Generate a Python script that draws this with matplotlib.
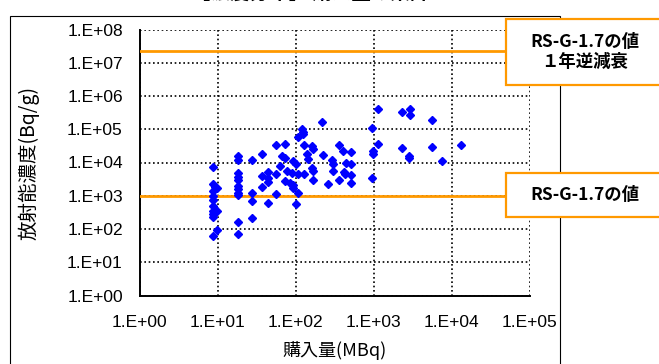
import numpy as np
import matplotlib.pyplot as plt
from matplotlib.patches import Rectangle

plt.rcParams['font.family'] = ['Liberation Sans Narrow', 'Liberation Sans', 'Noto Sans CJK JP']

# 購入量(MBq)
purchase = [8.8, 8.8, 9.2, 9.9, 8.8, 8.8, 8.8, 8.8, 8.8, 9.9, 8.8, 8.8, 9.9, 8.8,
            18.5, 18.5, 18.5, 18.5, 18.5, 18.5, 18.5, 18.5, 18.5, 18.5, 18.5,
            27.9, 27.9, 27.9, 27.9,
            37, 37, 37,
            44.8, 44.8, 44.8, 44.8,
            56.2, 56.2, 56.2,
            217, 120, 126, 124, 108.6, 73.3, 128.5, 161, 169, 139, 146, 227, 365, 410, 510,
            66.5, 73.3, 93.7, 101, 291, 300, 300, 444, 510, 161, 169, 419, 431, 510,
            63.4, 77.1, 89.4, 108.6, 128.5, 73.3, 85, 93.7, 92, 169, 263, 365, 510, 108.6, 101,
            1150, 2300, 2940, 2940, 5570, 948, 1150, 994, 977, 2340, 2880, 2880, 5570,
            13200, 7490, 948]
# 放射能濃度(Bq/g)
conc = [7200, 2300, 1800, 1660, 1380, 980, 720, 490, 360, 350, 275, 230, 93, 62,
        16000, 11700, 4900, 3600, 2900, 1950, 1550, 1230, 1050, 166, 72,
        12000, 1230, 690, 220,
        18600, 3800, 1820,
        5200, 3470, 2630, 620,
        33000, 4600, 1150,
        166000, 100000, 85000, 71000, 59000, 35500, 33000, 31600, 25000, 18600, 12900, 17000, 33000, 22400, 21400,
        15800, 13500, 11200, 8900, 11700, 9100, 5500, 9800, 9100, 6800, 5500, 5200, 4400, 4200,
        7800, 5500, 4900, 4600, 4600, 2750, 2450, 2100, 1660, 2900, 2300, 2900, 2450, 1230, 575,
        400000, 330000, 420000, 270000, 190000, 107000, 37000, 22400, 17800, 27000, 15800, 13500, 30000,
        33000, 11200, 3500]

limit_decay = 2.3e7   # RS-G-1.7の値 1年逆減衰
limit = 1.0e3         # RS-G-1.7の値
x_ticks = [1e0, 1e1, 1e2, 1e3, 1e4, 1e5]
y_ticks = [1e0, 1e1, 1e2, 1e3, 1e4, 1e5, 1e6, 1e7, 1e8]

W, H = 659, 364
fig = plt.figure(figsize=(W / 100, H / 100), dpi=100)

def fx(px):
    return px / W

def fy(py):
    return 1 - py / H

# 外枠
fig.add_artist(Rectangle((fx(10), fy(400)), fx(550), (400 - 16) / H, transform=fig.transFigure,
                         facecolor='none', edgecolor='black', lw=0.8))

# 上で切れているタイトル
fig.text(fx(310), fy(2.5), '【濃度分布】 購入量の集計', ha='center', va='bottom', fontsize=14,
         fontweight='bold', family=['Noto Sans CJK JP'])

ax = fig.add_axes([fx(139.5), fy(295.5), fx(390), (295.5 - 29.5) / H])
ax.set_xscale('log')
ax.set_yscale('log')
ax.set_xlim(1e0, 1e5)
ax.set_ylim(1e0, 1e8)
ax.set_xticks(x_ticks)
ax.set_yticks(y_ticks)
ax.set_xticklabels(['1.E+%02d' % int(np.log10(v)) for v in x_ticks])
ax.set_yticklabels(['1.E+%02d' % int(np.log10(v)) for v in y_ticks])
ax.minorticks_off()
ax.tick_params(length=0, labelsize=12.5)
ax.tick_params(axis='x', pad=14)
ax.tick_params(axis='y', pad=12)
ax.grid(True, color='black', linestyle=(0, (1, 1.6)), lw=1.2)
ax.set_axisbelow(True)
for s in ['top', 'right']:
    ax.spines[s].set_visible(False)
for s in ['left', 'bottom']:
    ax.spines[s].set_linewidth(1.4)

ax.plot(purchase, conc, 'D', color='#0000FF', ms=4.2, mec='#0000FF', zorder=4)

line_end = (506 - 139.5) / 390
ax.axhline(limit_decay, xmin=0, xmax=line_end, color='#FF9900', lw=2, zorder=3)
ax.axhline(limit, xmin=0, xmax=line_end, color='#FF9900', lw=2, zorder=3)

ax.set_xlabel('購入量(MBq)', fontsize=13, family=['Noto Sans CJK JP'], labelpad=8)
ax.set_ylabel('放射能濃度(Bq/g)', fontsize=14, family=['Noto Sans CJK JP'], labelpad=20)

# 注記ボックス
for top, bottom, txt in [(19, 85, 'RS-G-1.7の値\n１年逆減衰'), (173, 217, 'RS-G-1.7の値')]:
    fig.add_artist(Rectangle((fx(506), fy(bottom)), fx(200), (bottom - top) / H,
                             transform=fig.transFigure, facecolor='white',
                             edgecolor='#FF9900', lw=1.6, zorder=5))
    fig.text(fx(585), fy((top + bottom) / 2), txt, ha='center', va='center', fontsize=12.5,
             fontweight='bold', linespacing=1.15, family=['Noto Sans CJK JP'], zorder=6)

fig.savefig('out.png', dpi=100)
